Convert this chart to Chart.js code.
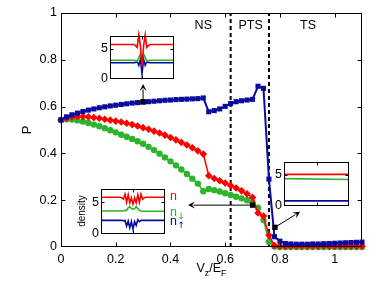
<!DOCTYPE html>
<html>
<head>
<meta charset="utf-8">
<script src="https://cdn.jsdelivr.net/npm/chart.js@4.4.1/dist/chart.umd.min.js"></script>
<style>
  body { margin: 0; background: #fff; }
  #wrap { position: relative; width: 388px; height: 287px; }
  #wrap canvas { position: absolute; }
</style>
</head>
<body>
<div id="wrap">
  <canvas id="main" width="388" height="287" style="left:0;top:0;width:388px;height:287px"></canvas>
  <canvas id="inset-ns"></canvas>
  <canvas id="inset-pts"></canvas>
  <canvas id="inset-ts"></canvas>
</div>
<script>
Chart.defaults.font.family = "'Liberation Sans', Arial, sans-serif";
Chart.defaults.color = '#000';

// ---- main curves: P vs Vz/EF ----
const vz = [0, 0.02, 0.04, 0.06, 0.08, 0.10, 0.12, 0.14, 0.16, 0.18,
            0.20, 0.22, 0.24, 0.26, 0.28, 0.30, 0.32, 0.34, 0.36, 0.38,
            0.40, 0.42, 0.44, 0.46, 0.48, 0.50, 0.52, 0.54, 0.56, 0.58,
            0.60, 0.62, 0.64, 0.66, 0.68, 0.70, 0.72, 0.74, 0.76, 0.78,
            0.80, 0.82, 0.84, 0.86, 0.88, 0.90, 0.92, 0.94, 0.96, 0.98,
            1.00, 1.02, 1.04, 1.06, 1.08, 1.10];
const pBlue = [0.543, 0.556, 0.565, 0.572, 0.579, 0.585, 0.590, 0.595, 0.599, 0.603,
               0.606, 0.609, 0.612, 0.615, 0.617, 0.619, 0.621, 0.623, 0.625, 0.627,
               0.628, 0.630, 0.631, 0.632, 0.633, 0.634, 0.637, 0.578, 0.583, 0.590,
               0.601, 0.613, 0.621, 0.625, 0.628, 0.631, 0.687, 0.678, 0.290, 0.044,
               0.025, 0.015, 0.013, 0.012, 0.012, 0.012, 0.013, 0.013, 0.014, 0.015,
               0.016, 0.017, 0.018, 0.019, 0.020, 0.021];
const pRed = [0.543, 0.550, 0.556, 0.558, 0.558, 0.556, 0.553, 0.550, 0.546, 0.542,
              0.538, 0.534, 0.529, 0.523, 0.517, 0.510, 0.503, 0.495, 0.487, 0.478,
              0.468, 0.458, 0.447, 0.436, 0.424, 0.411, 0.397, 0.305, 0.293, 0.283,
              0.273, 0.263, 0.252, 0.240, 0.227, 0.212, 0.145, 0.132, 0.050, 0.006,
              0.003, 0.003, 0.003, 0.003, 0.003, 0.003, 0.003, 0.003, 0.003, 0.003,
              0.003, 0.003, 0.003, 0.003, 0.003, 0.003];
const pGreen = [0.543, 0.546, 0.545, 0.541, 0.536, 0.530, 0.523, 0.516, 0.508, 0.499,
                0.490, 0.480, 0.471, 0.462, 0.452, 0.441, 0.428, 0.414, 0.399, 0.383,
                0.366, 0.349, 0.331, 0.312, 0.292, 0.271, 0.238, 0.248, 0.243, 0.237,
                0.230, 0.222, 0.215, 0.208, 0.200, 0.190, 0.168, 0.115, 0.022, 0.002,
                0, 0, 0, 0, 0, 0, 0, 0, 0, 0,
                0, 0, 0, 0, 0, 0];

const xTickValues = [0, 0.2, 0.4, 0.6, 0.8, 1];
const xTickLabels = ['0', '0.2', '0.4', '0.6', '0.8', '1'];
const yTickValues = [0, 0.2, 0.4, 0.6, 0.8, 1];
const yTickLabels = ['0', '0.2', '0.4', '0.6', '0.8', '1'];

const phaseBounds = [0.62, 0.76];
const regionNames = ['NS', 'PTS', 'TS'];
const regionCentres = [0.52, 0.693, 0.903];

// snapshot points and where their arrows point
const snapX = [0.30, 0.70, 0.782];
const snapP = [0.621, 0.179, 0.084];
const arrowToX = [0.30, 0.464, 0.874];
const arrowToP = [0.697, 0.179, 0.151];

// ---- insets: density profiles ----
const nsPos   = [-20, -5, -4, -3, -2, -1, 0, 1, 2, 3, 4, 5, 20];
const nsN     = [5.7, 5.7, 5.5, 5.2, 7.3, 5.5, 2.0, 5.5, 7.3, 5.2, 5.5, 5.7, 5.7];
const nsDown  = [3.05, 3.05, 3.0, 2.9, 3.5, 4.1, 3.3, 4.1, 3.5, 2.9, 3.0, 3.05, 3.05];
const nsUp    = [2.64, 2.64, 2.7, 2.8, 2.2, 3.2, 0.8, 3.2, 2.2, 2.8, 2.7, 2.64, 2.64];

const ptsPos  = [-20, -8, -7, -6, -5, -4, -3, -2, -1, 0, 1, 2, 3, 4, 5, 6, 7, 8, 20];
const ptsN    = [5.8, 5.8, 5.7, 5.5, 6.3, 5.0, 6.2, 4.9, 5.7, 4.7, 5.7, 4.9, 6.2, 5.0, 6.3, 5.5, 5.7, 5.8, 5.8];
const ptsDown = [3.6, 3.6, 3.6, 3.6, 3.7, 3.7, 4.1, 4.3, 4.0, 3.9, 4.0, 4.3, 4.0, 3.7, 3.6, 3.55, 3.55, 3.55, 3.55];
const ptsUp   = [2.1, 2.1, 2.1, 2.0, 2.1, 1.2, 2.0, 0.9, 1.9, 0.7, 1.9, 1.3, 2.2, 1.9, 2.1, 2.1, 2.1, 2.1, 2.1];

const tsPos   = [-20, 20];
const tsN     = [5.1, 5.1];
const tsDown  = [4.4, 4.25];
const tsUp    = [0.75, 0.75];

const RED = '#ff0000', GREEN = '#2cb42c', BLUE = '#0a0aa0';

function pts(xs, ys) {
    return xs.map((x, i) => ({ x: x, y: ys[i] }));
}

// white box, border and inward ticks on all four sides
const framePlugin = {
    id: 'frame',
    beforeDatasetsDraw(chart) {
        const a = chart.chartArea, ctx = chart.ctx;
        ctx.save();
        ctx.fillStyle = '#fff';
        ctx.fillRect(a.left, a.top, a.right - a.left, a.bottom - a.top);
        ctx.restore();
    },
    afterDatasetsDraw(chart, args, opts) {
        const { ctx, chartArea: a, scales: { x, y } } = chart;
        const L = opts.tick || 4;
        const l = Math.round(a.left) + 0.5, r = Math.round(a.right) - 0.5;
        const t = Math.round(a.top) + 0.5, b = Math.round(a.bottom) - 0.5;
        ctx.save();
        ctx.strokeStyle = '#000';
        ctx.lineWidth = 1;
        ctx.beginPath();
        x.ticks.forEach(tk => {
            const px = Math.round(x.getPixelForValue(tk.value)) + 0.5;
            if (px <= l + 1 || px >= r - 1) return;
            ctx.moveTo(px, b); ctx.lineTo(px, b - L);
            ctx.moveTo(px, t); ctx.lineTo(px, t + L);
        });
        y.ticks.forEach(tk => {
            const py = Math.round(y.getPixelForValue(tk.value)) + 0.5;
            if (py <= t + 1 || py >= b - 1) return;
            ctx.moveTo(l, py); ctx.lineTo(l + L, py);
            ctx.moveTo(r, py); ctx.lineTo(r - L, py);
        });
        ctx.stroke();
        ctx.strokeRect(l, t, r - l, b - t);
        ctx.restore();
    }
};

function drawArrow(ctx, x1, y1, x2, y2) {
    const ang = Math.atan2(y2 - y1, x2 - x1);
    const hl = 7, hw = 3.5;
    const c = Math.cos(ang), s = Math.sin(ang);
    ctx.beginPath();
    ctx.moveTo(x1, y1);
    ctx.lineTo(x2 - hl * c * 0.8, y2 - hl * s * 0.8);
    ctx.stroke();
    ctx.beginPath();
    ctx.moveTo(x2, y2);
    ctx.lineTo(x2 - hl * c + hw * s, y2 - hl * s - hw * c);
    ctx.lineTo(x2 - hl * c * 0.6, y2 - hl * s * 0.6);
    ctx.lineTo(x2 - hl * c - hw * s, y2 - hl * s + hw * c);
    ctx.closePath();
    ctx.fill();
}

// region names, arrows and axis titles of the main plot
const notesPlugin = {
    id: 'notes',
    afterDraw(chart) {
        const { ctx, chartArea: a, scales: { x, y } } = chart;
        ctx.save();
        ctx.fillStyle = '#000';
        ctx.strokeStyle = '#000';
        ctx.lineWidth = 1;
        ctx.font = "12.5px 'Liberation Sans', Arial, sans-serif";
        ctx.textAlign = 'center';
        ctx.textBaseline = 'middle';
        regionNames.forEach((nm, i) => {
            ctx.fillText(nm, x.getPixelForValue(regionCentres[i]), y.getPixelForValue(0.948));
        });
        snapX.forEach((v, i) => {
            drawArrow(ctx, x.getPixelForValue(v), y.getPixelForValue(snapP[i]),
                      x.getPixelForValue(arrowToX[i]), y.getPixelForValue(arrowToP[i]));
        });

        // y title
        ctx.save();
        ctx.translate(27, (a.top + a.bottom) / 2);
        ctx.rotate(-Math.PI / 2);
        ctx.font = "13px 'Liberation Sans', Arial, sans-serif";
        ctx.fillText('P', 0, 0);
        ctx.restore();

        // x title V_z/E_F
        const big = "12.5px 'Liberation Sans', Arial, sans-serif";
        const small = "9px 'Liberation Sans', Arial, sans-serif";
        const parts = [['V', big, 0], ['z', small, 3.5], ['/E', big, 0], ['F', small, 3.5]];
        let w = 0;
        parts.forEach(p => { ctx.font = p[1]; w += ctx.measureText(p[0]).width; });
        let cx = (a.left + a.right) / 2 - w / 2;
        ctx.textAlign = 'left';
        ctx.textBaseline = 'alphabetic';
        parts.forEach(p => {
            ctx.font = p[1];
            ctx.fillText(p[0], cx, 272 + p[2]);
            cx += ctx.measureText(p[0]).width;
        });
        ctx.restore();
    }
};

new Chart(document.getElementById('main'), {
    type: 'line',
    data: {
        datasets: [
            {
                data: pts(snapX, snapP), showLine: false,
                pointStyle: 'rect', pointRadius: 3.8,
                backgroundColor: '#000', borderColor: '#000', borderWidth: 0, order: -1
            },
            {
                label: 'blue', data: pts(vz, pBlue), borderColor: BLUE, backgroundColor: BLUE,
                borderWidth: 2, pointStyle: 'rect', pointRadius: 3.6, pointBorderWidth: 0, order: 0, clip: false
            },
            {
                label: 'red', data: pts(vz, pRed), borderColor: RED, backgroundColor: RED,
                borderWidth: 1.5, pointStyle: 'rectRot', pointRadius: 3.8, pointBorderWidth: 0, order: 1, clip: false
            },
            {
                label: 'green', data: pts(vz, pGreen), borderColor: GREEN, backgroundColor: GREEN,
                borderWidth: 1.5, pointStyle: 'circle', pointRadius: 3.2, pointBorderWidth: 0, order: 2, clip: false
            },
            ...phaseBounds.map(v => ({
                data: [{ x: v, y: 0 }, { x: v, y: 1 }],
                borderColor: '#000', borderWidth: 2, borderDash: [4, 3],
                pointRadius: 0, order: 3
            }))
        ]
    },
    options: {
        responsive: false,
        animation: false,
        devicePixelRatio: 1,
        layout: { padding: { top: 13, right: 26, left: 0, bottom: 0 } },
        plugins: {
            legend: { display: false },
            tooltip: { enabled: false },
            frame: { tick: 4 }
        },
        scales: {
            x: {
                type: 'linear', min: 0, max: 1.1,
                grid: { display: false, drawTicks: false },
                border: { display: false },
                ticks: {
                    padding: 5, maxRotation: 0, autoSkip: false,
                    font: { size: 12.5 },
                    callback: (v, i) => xTickLabels[i]
                },
                afterBuildTicks: s => { s.ticks = xTickValues.map(v => ({ value: v })); },
                afterFit: s => { s.height = 40; }
            },
            y: {
                type: 'linear', min: 0, max: 1,
                grid: { display: false, drawTicks: false },
                border: { display: false },
                ticks: {
                    padding: 4, autoSkip: false,
                    font: { size: 12.5 },
                    callback: (v, i) => yTickLabels[i]
                },
                afterBuildTicks: s => { s.ticks = yTickValues.map(v => ({ value: v })); },
                afterFit: s => { s.width = 61; }
            }
        }
    },
    plugins: [framePlugin, notesPlugin]
});

// ---- insets ----
const insetNotes = {
    id: 'insetNotes',
    afterDraw(chart, args, opts) {
        if (!opts.labels) return;
        const { ctx, chartArea: a, scales: { y } } = chart;
        const ds = chart.data.datasets;
        const tx = a.right + 5;
        ctx.save();
        ctx.textAlign = 'left';
        ctx.textBaseline = 'middle';
        const subs = ['', '\u2193', '\u2191'];
        ds.forEach((d, i) => {
            const py = y.getPixelForValue(d.data[d.data.length - 1].y) + (i === 0 ? -1 : 1);
            ctx.fillStyle = d.borderColor;
            ctx.font = "12.5px 'Liberation Sans', Arial, sans-serif";
            ctx.fillText('n', tx, py);
            const w = ctx.measureText('n').width;
            if (subs[i]) {
                ctx.font = "9px 'DejaVu Sans', sans-serif";
                ctx.fillText(subs[i], tx + w + 0.5, py + 4);
            }
        });
        ctx.save();
        ctx.fillStyle = '#000';
        ctx.font = "10px 'Liberation Sans', Arial, sans-serif";
        ctx.textAlign = 'center';
        ctx.translate(a.left - 19, (a.top + a.bottom) / 2);
        ctx.rotate(-Math.PI / 2);
        ctx.fillText('density', 0, 0);
        ctx.restore();
        ctx.restore();
    }
};

function makeInset(id, box, pad, xs, nArr, downArr, upArr, labels) {
    const cv = document.getElementById(id);
    const W = box.w + pad.l + pad.r, H = box.h + pad.t + pad.b;
    cv.width = W; cv.height = H;
    cv.style.left = (box.x - pad.l) + 'px';
    cv.style.top = (box.y - pad.t) + 'px';
    cv.style.width = W + 'px';
    cv.style.height = H + 'px';
    const line = (arr, col) => ({
        data: pts(xs, arr), borderColor: col, backgroundColor: col,
        borderWidth: 1.6, pointRadius: 0, clip: false
    });
    return new Chart(cv, {
        type: 'line',
        data: { datasets: [line(nArr, RED), line(downArr, GREEN), line(upArr, BLUE)] },
        options: {
            responsive: false,
            animation: false,
            devicePixelRatio: 1,
            layout: { padding: { top: pad.t, right: pad.r, left: 0, bottom: pad.b } },
            plugins: {
                legend: { display: false },
                tooltip: { enabled: false },
                frame: { tick: 3 },
                insetNotes: { labels: labels }
            },
            scales: {
                x: {
                    type: 'linear', min: -20, max: 20,
                    grid: { display: false, drawTicks: false },
                    border: { display: false },
                    ticks: { display: false, stepSize: 20 },
                    afterFit: s => { s.height = 0; }
                },
                y: {
                    type: 'linear', min: 0, max: 7.2,
                    grid: { display: false, drawTicks: false },
                    border: { display: false },
                    ticks: { stepSize: 5, padding: 2, font: { size: 12.5 } },
                    afterBuildTicks: s => {
                        s.ticks = s.ticks.filter(t => t.value === 0 || t.value === 5);
                    },
                    afterFit: s => { s.width = pad.l; }
                }
            }
        },
        plugins: [framePlugin, insetNotes]
    });
}

makeInset('inset-ns',  { x: 110, y: 28,  w: 64, h: 52 }, { l: 12, r: 2, t: 2, b: 8 },
          nsPos, nsN, nsDown, nsUp, false);
makeInset('inset-pts', { x: 101, y: 181, w: 64, h: 54 }, { l: 26, r: 22, t: 2, b: 8 },
          ptsPos, ptsN, ptsDown, ptsUp, true);
makeInset('inset-ts',  { x: 284, y: 154, w: 65, h: 53 }, { l: 12, r: 2, t: 2, b: 8 },
          tsPos, tsN, tsDown, tsUp, false);
</script>
</body>
</html>
